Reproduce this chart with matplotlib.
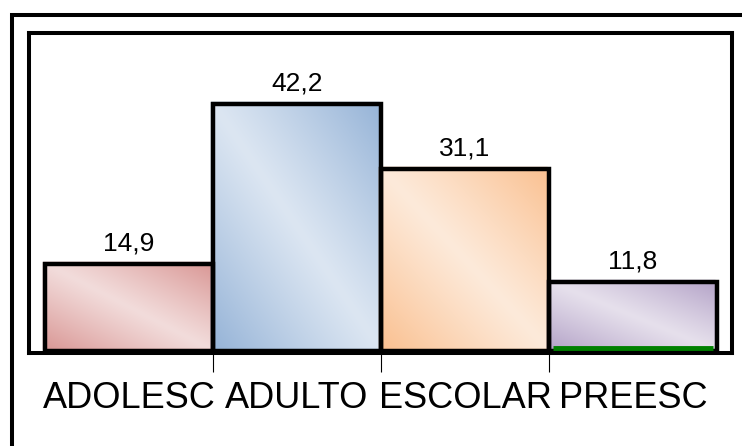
import numpy as np
import matplotlib.pyplot as plt
import matplotlib.transforms as mtransforms
from matplotlib.patches import Rectangle
from matplotlib.lines import Line2D
from matplotlib.colors import to_rgb

plt.rcParams['font.family'] = ['Liberation Sans', 'DejaVu Sans']

# datos por grupo de edad (%)
grupos = ['ADOLESC', 'ADULTO', 'ESCOLAR', 'PREESC']
porcentajes = [14.9, 42.2, 31.1, 11.8]
otros = [None, None, None, 0.0]   # serie vacía, solo se ve en PREESC

tonos_oscuros = ['#D99694', '#95B3D7', '#FAC090', '#B3A2C7']
tonos_claros = ['#F2DCDB', '#DCE6F2', '#FDEADA', '#E6E0EC']


# relleno en degradado diagonal: oscuro en las esquinas, claro en el centro
def degradado(ax, x0, ancho, alto, oscuro, claro):
    u = np.linspace(0, 1, 240)
    v = np.linspace(0, 1, 160)
    U, V = np.meshgrid(u, v)
    t = np.clip(np.abs(U + V - 1.0), 0, 1) ** 1.1
    c1 = np.array(to_rgb(oscuro))
    c0 = np.array(to_rgb(claro))
    img = c0 + (c1 - c0) * t[..., None]
    ax.imshow(img, extent=(x0, x0 + ancho, 0, alto), origin='lower',
              aspect='auto', interpolation='bilinear', zorder=1)


fig = plt.figure(figsize=(7.42, 4.46), dpi=100)
ax = fig.add_axes([29 / 742, 93 / 446, 703.5 / 742, 320.5 / 446])

x = np.arange(len(grupos))
ancho = 1.0

# borde fino del color de la barra, un poco desplazado hacia arriba a la izquierda
desplazado = mtransforms.offset_copy(ax.transData, fig=fig, x=-2, y=2, units='dots')

for i, v in enumerate(porcentajes):
    x0 = x[i] - ancho / 2
    degradado(ax, x0, ancho, v, tonos_oscuros[i], tonos_claros[i])
    ax.add_patch(Rectangle((x0, 0), ancho, v, fill=False, edgecolor=tonos_oscuros[i],
                           lw=1.0, transform=desplazado, zorder=1.5))
    ax.add_patch(Rectangle((x0, 0), ancho, v, fill=False, edgecolor='black',
                           lw=3.2, zorder=2))
    ax.annotate('{:.1f}'.format(v).replace('.', ','),
                xy=(x[i], v), xytext=(0, 6), textcoords='offset points',
                ha='center', va='bottom', fontsize=19)

# serie vacía en verde
for i, v in enumerate(otros):
    if v is not None:
        ax.bar(x[i], v, width=ancho * 0.95, bottom=0.45, color='none',
               edgecolor='#008000', lw=3.5, zorder=2.2)

ax.set_xlim(-0.595, 3.592)
ax.set_ylim(-0.34, 54.4)

ax.set_yticks([])
ax.set_xticks(x[:-1] + 0.5)
ax.set_xticklabels([])
ax.tick_params(axis='x', which='major', direction='out', length=13.5, width=0.8, color='black')
ax.set_xticks(x, minor=True)
ax.set_xticklabels(grupos, minor=True, fontsize=26)
ax.tick_params(axis='x', which='minor', length=0, pad=20)

for s in ax.spines.values():
    s.set_linewidth(2.9)
    s.set_color('black')
    s.set_zorder(3)

# marco exterior (solo arriba e izquierda)
fig.add_artist(Line2D([12.5 / 742, 12.5 / 742, 1.0], [0.0, 1 - 15 / 446, 1 - 15 / 446],
                      transform=fig.transFigure, color='black', lw=2.9,
                      solid_joinstyle='miter'))

plt.savefig('out.png', dpi=100)
